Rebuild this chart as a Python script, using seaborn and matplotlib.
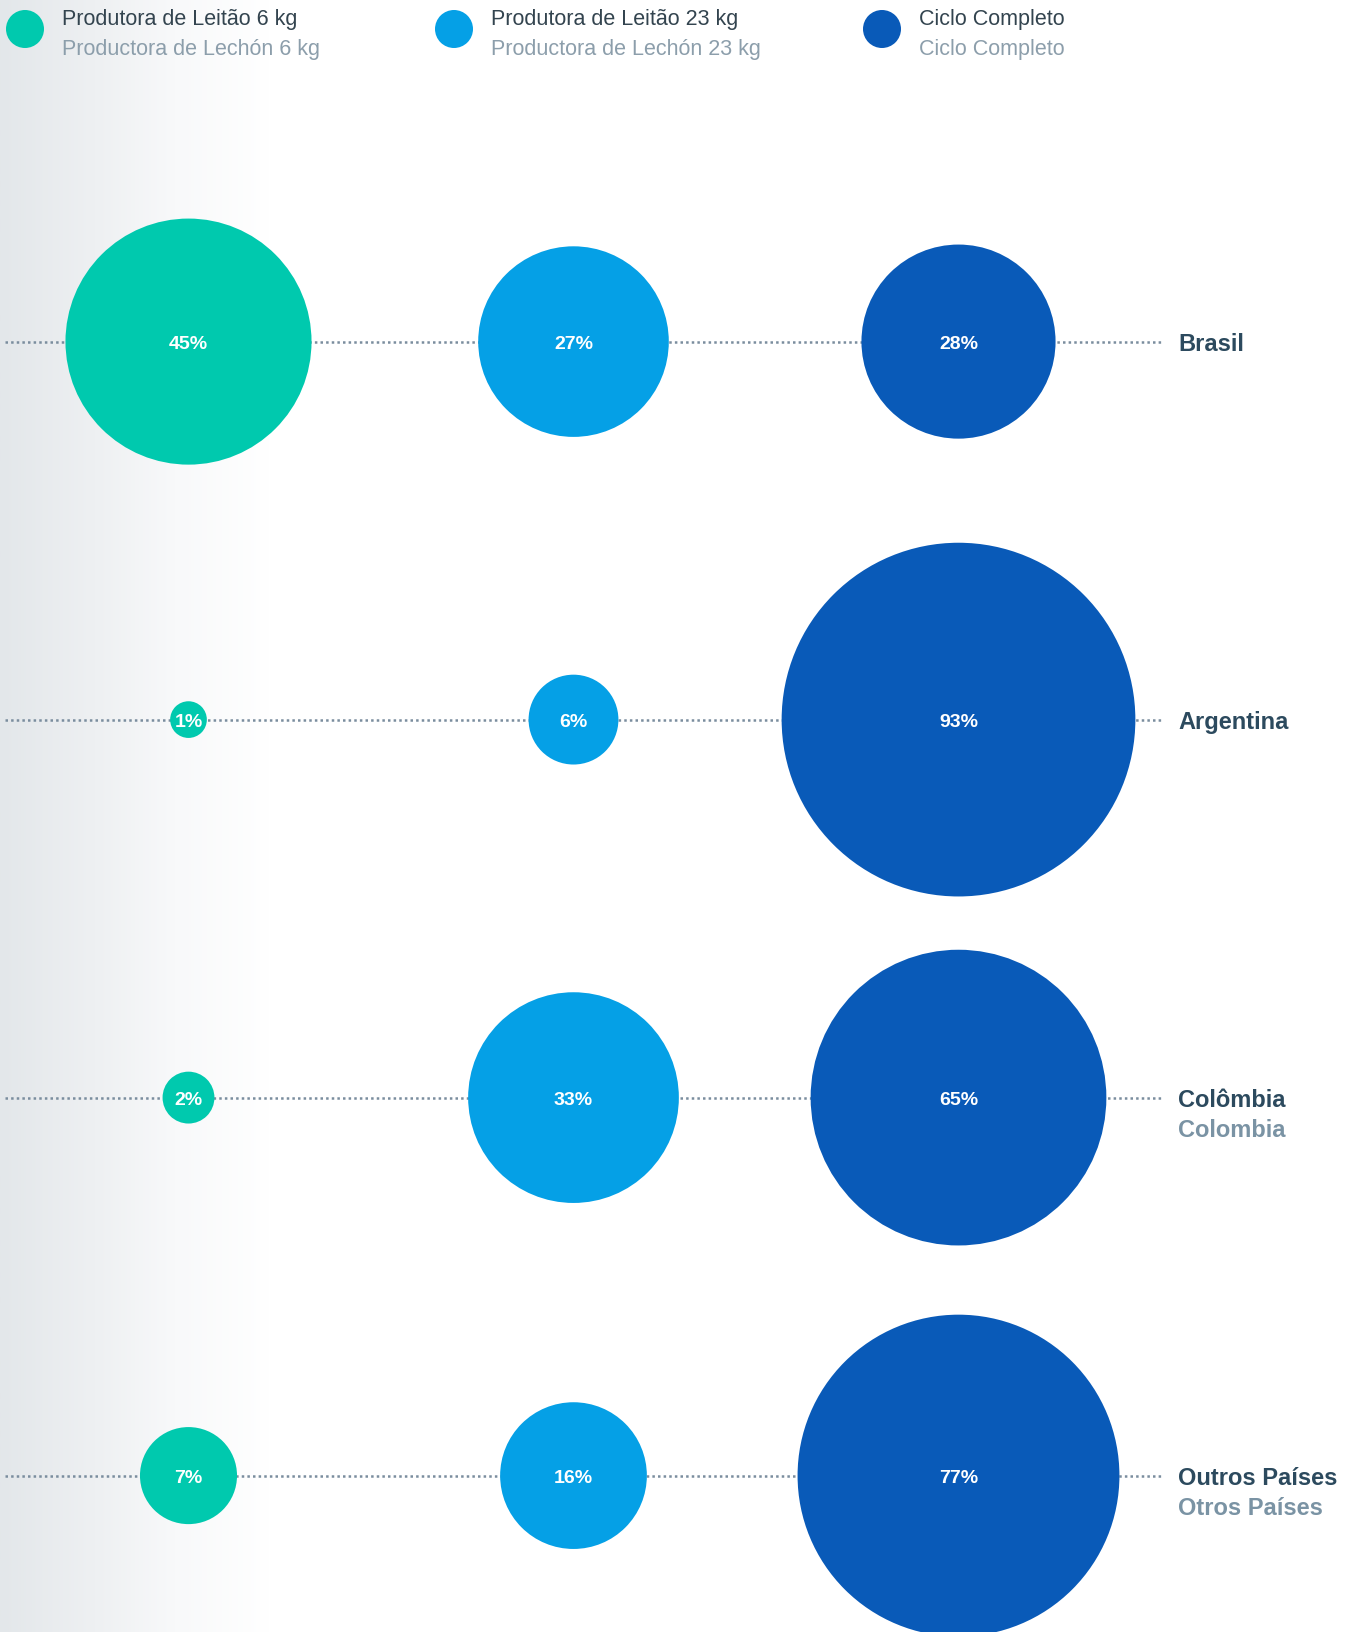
import numpy as np
import pandas as pd
import matplotlib.pyplot as plt
import seaborn as sns
from matplotlib.patches import Circle
from matplotlib.colors import LinearSegmentedColormap

# dados
categorias = ["Produtora de Leitão 6 kg", "Produtora de Leitão 23 kg", "Ciclo Completo"]
categorias_es = ["Productora de Lechón 6 kg", "Productora de Lechón 23 kg", "Ciclo Completo"]
paises = ["Brasil", "Argentina", "Colômbia", "Outros Países"]
paises_es = ["", "", "Colombia", "Otros Países"]
leitao_6kg = [45, 1, 2, 7]
leitao_23kg = [27, 6, 33, 16]
ciclo_completo = [28, 93, 65, 77]
cores = ["#00c9ae", "#05a0e6", "#095ab8"]

# layout (pixels, dpi 100)
W, H = 1358, 1633
col0, col_step = 188.5, 385.0
row0, row_step = 342.6, 378.0
px_per_pct = 18.34  # raio = px_per_pct * sqrt(pct)

sns.set_style("white")
plt.rcParams["font.family"] = ["Liberation Sans", "DejaVu Sans"]

linhas = []
for j, cat in enumerate(categorias):
    vals = [leitao_6kg, leitao_23kg, ciclo_completo][j]
    for i, p in enumerate(paises):
        linhas.append({"categoria": cat, "pais": p, "xi": j, "yi": i, "valor": vals[i]})
df = pd.DataFrame(linhas)

fig = plt.figure(figsize=(W / 100, H / 100), dpi=100)

# fundo + legenda (coordenadas em pixels)
bg = fig.add_axes([0, 0, 1, 1])
bg.set_xlim(0, W)
bg.set_ylim(H, 0)
bg.axis("off")
grad = LinearSegmentedColormap.from_list(
    "g", [(0, "#e3e7ea"), (0.35, "#eef0f2"), (0.65, "#f8f9fa"), (1, "#ffffff")])
bg.imshow(np.linspace(0, 1, 256)[None, :], cmap=grad, aspect="auto",
          extent=[0, 270, H, 0], zorder=0)

leg_x = [25, 454, 882]
for j in range(3):
    bg.add_patch(Circle((leg_x[j], 30), 19, color=cores[j], lw=0, zorder=2))
    bg.text(leg_x[j] + 37, 20, categorias[j], fontsize=15.5, color="#33444f",
            va="center", ha="left")
    bg.text(leg_x[j] + 37, 49, categorias_es[j], fontsize=15.5, color="#8c9eab",
            va="center", ha="left")

# gráfico principal
ax = fig.add_axes([0, 0, 1, 1], facecolor="none")
ax.set_xlim(-col0 / col_step, (W - col0) / col_step)
ax.set_ylim((H - row0) / row_step, -row0 / row_step)
ax.axis("off")

x_ini = (5 - col0) / col_step
x_fim = (1161 - col0) / col_step
ax.hlines(range(len(paises)), x_ini, x_fim, colors="#7a8d9e", lw=1.8,
          linestyles=(0, (1, 1.25)), zorder=1)

d100 = 2 * px_per_pct * 10 * 0.72
sns.scatterplot(data=df, x="xi", y="yi", hue="categoria", palette=cores,
                size="valor", sizes=(0, d100 ** 2), size_norm=(0, 100),
                linewidth=0, legend=False, ax=ax, zorder=3, alpha=1)

dy = 2 / row_step
for _, r in df.iterrows():
    ax.text(r["xi"], r["yi"] + dy, f"{r['valor']}%", color="white", fontsize=14,
            fontweight="bold", ha="center", va="center", zorder=4)

lab_x = (1178 - col0) / col_step
for i, p in enumerate(paises):
    ax.text(lab_x, i + dy, p, fontsize=17, fontweight="bold", color="#2c4a5e",
            ha="left", va="center")
    if paises_es[i]:
        ax.text(lab_x, i + dy + 30 / row_step, paises_es[i], fontsize=17,
                fontweight="bold", color="#7a93a4", ha="left", va="center")

fig.savefig("out.png", dpi=100)
